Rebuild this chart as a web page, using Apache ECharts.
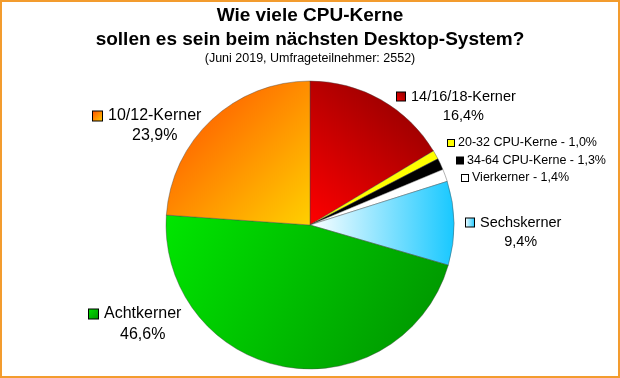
<!DOCTYPE html>
<html>
<head>
<meta charset="utf-8">
<script src="https://cdn.jsdelivr.net/npm/echarts@6/dist/echarts.min.js"></script>
<style>html,body{margin:0;padding:0;background:#fff}#c{width:620px;height:378px}</style>
</head>
<body>
<div id="c"></div>
<script>
var titleLines = ['Wie viele CPU-Kerne', 'sollen es sein beim nächsten Desktop-System?'];
var subTitle = '(Juni 2019, Umfrageteilnehmer: 2552)';
var categories = ['14/16/18-Kerner', '20-32 CPU-Kerne', '34-64 CPU-Kerne', 'Vierkerner', 'Sechskerner', 'Achtkerner', '10/12-Kerner'];
var values = [16.4, 1.0, 1.3, 1.4, 9.4, 46.6, 23.9];
var smallLabel = [false, true, true, true, false, false, false];
// label styling: anchors (left edge of legend square, centre of first text line), font sizes, square sizes, line heights
var labelAnchors = [[397, 96.5], [448, 143], [457, 160.5], [462, 178], [466, 222.5], [89, 314], [93, 116]];
var labelFontSizes = [14.5, 12.5, 12.5, 12.5, 14.5, 16, 16];
var labelSquares = [8, 6, 6, 6, 8, 9, 9];
var labelLineHeights = [19, 16, 16, 16, 19, 21, 20];

function lg(x, y, x2, y2, c1, c2) {
  return {type: 'linear', x: x, y: y, x2: x2, y2: y2, global: false,
    colorStops: [{offset: 0, color: c1}, {offset: 1, color: c2}]};
}
var fills = [
  lg(0, 1, 1, 0, '#FF0000', '#850000'),
  '#FFFF00',
  '#000000',
  '#FFFFFF',
  lg(0, 0, 1, 0, '#FFFFFF', '#18C8FF'),
  lg(0, 0, 1, 1, '#00E600', '#008F00'),
  lg(0, 0, 1, 1, '#FF4A00', '#FFD000')
];
function pct(v) { return v.toFixed(1).replace('.', ',') + '%'; }

var FONT = '"Liberation Sans", Arial, sans-serif';
var rich = {};
fills.forEach(function (f, i) {
  var s = labelSquares[i], lh = labelLineHeights[i], fs = labelFontSizes[i];
  var gap = smallLabel[i] ? 4 : 6;
  rich['i' + i] = {width: s, height: s, backgroundColor: f, borderColor: '#000', borderWidth: 1, lineHeight: lh};
  rich['n' + i] = {fontSize: fs, fontFamily: FONT, color: '#000', padding: [0, 0, 0, gap], lineHeight: lh};
  rich['p' + i] = {fontSize: fs, fontFamily: FONT, color: '#000', align: 'center', padding: [0, 0, 0, s + gap], lineHeight: lh};
});

var data = categories.map(function (c, i) {
  return {name: c, value: values[i], itemStyle: {color: fills[i]}};
});

var chart = echarts.init(document.getElementById('c'), null, {renderer: 'canvas'});
chart.setOption({
  animation: false,
  backgroundColor: '#fff',
  title: {
    text: titleLines.join('\n'), subtext: subTitle, left: 'center', top: -1, itemGap: 0,
    textStyle: {fontSize: 19, fontWeight: 'bold', fontFamily: FONT, color: '#000', lineHeight: 24},
    subtextStyle: {fontSize: 12.5, fontFamily: FONT, color: '#000', lineHeight: 14}
  },
  graphic: [{type: 'rect', shape: {x: 1, y: 1, width: 618, height: 376}, style: {fill: 'none', stroke: '#F39C2E', lineWidth: 2}, z: 100}],
  series: [{
    type: 'pie',
    center: [310, 225],
    radius: 144,
    startAngle: 90,
    clockwise: true,
    avoidLabelOverlap: false,
    emphasis: {disabled: true},
    itemStyle: {borderColor: 'rgba(70,70,70,0.7)', borderWidth: 0.6},
    labelLine: {show: false},
    label: {
      show: true, position: 'outside', rich: rich,
      formatter: function (p) {
        var i = p.dataIndex;
        if (smallLabel[i]) return '{i' + i + '|}{n' + i + '|' + p.name + ' - ' + pct(p.value) + '}';
        return '{i' + i + '|}{n' + i + '|' + p.name + '}\n{p' + i + '|' + pct(p.value) + '}';
      }
    },
    labelLayout: function (p) {
      var i = p.dataIndex, a = labelAnchors[i];
      return {x: a[0], y: a[1] - labelLineHeights[i] / 2, align: 'left', verticalAlign: 'top'};
    },
    data: data
  }]
});
</script>
</body>
</html>
